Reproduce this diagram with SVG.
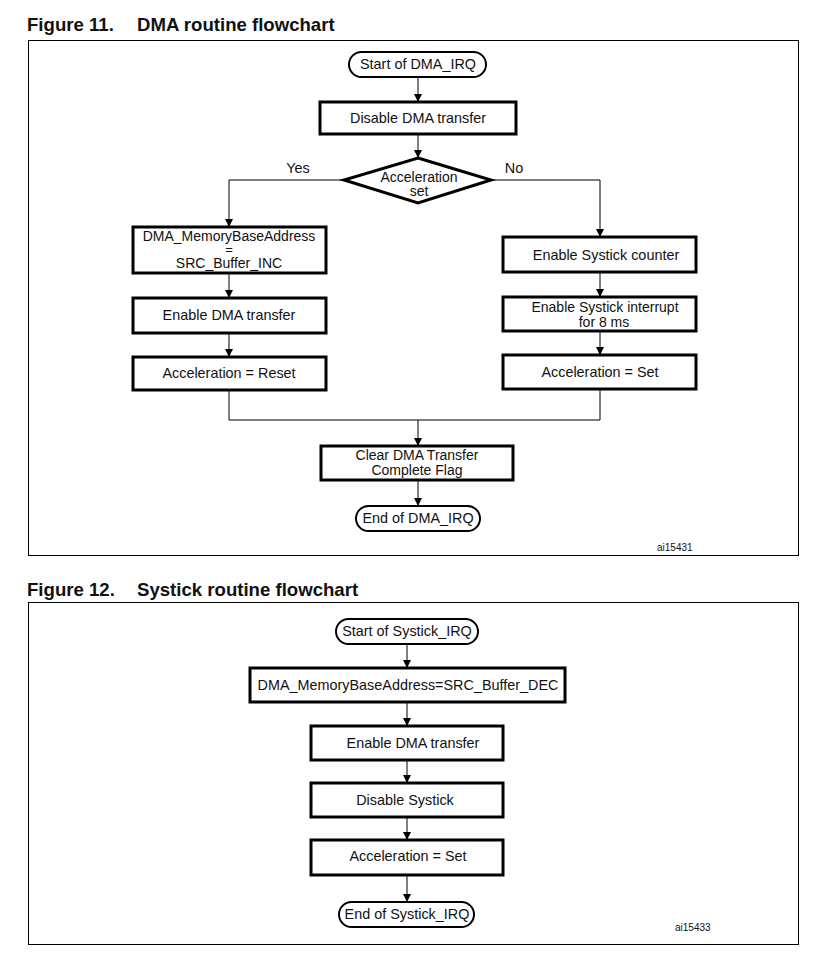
<svg xmlns="http://www.w3.org/2000/svg" width="828" height="962" viewBox="0 0 828 962">
<defs>
<marker id="ah" viewBox="0 0 10 10" refX="10" refY="5" markerWidth="8" markerHeight="10" markerUnits="userSpaceOnUse" orient="auto">
<path d="M0,0 L10,5 L0,10 z" fill="#000"/>
</marker>
<style>
.t{font-family:"Liberation Sans",Arial,sans-serif;font-size:14.4px;fill:#111;text-anchor:middle}
.t2{font-family:"Liberation Sans",Arial,sans-serif;font-size:14px;fill:#111;text-anchor:middle}
.t3{font-family:"Liberation Sans",Arial,sans-serif;font-size:13px;fill:#111;text-anchor:middle}
.h{font-family:"Liberation Sans",Arial,sans-serif;font-size:18.6px;font-weight:bold;fill:#111}
.s{font-family:"Liberation Sans",Arial,sans-serif;font-size:10px;fill:#111}
.box{fill:#fff;stroke:#000;stroke-width:3}
.term{fill:#fff;stroke:#000;stroke-width:2}
.frame{fill:#fff;stroke:#000;stroke-width:1}
.c{fill:none;stroke:#000;stroke-width:1}
</style>
</defs>
<rect width="828" height="962" fill="#fff"/>
<text class="h" x="27" y="31">Figure 11.</text>
<text class="h" x="137" y="31">DMA routine flowchart</text>
<rect class="frame" x="28.5" y="40.5" width="770" height="515"/>
<text class="h" x="27" y="596">Figure 12.</text>
<text class="h" x="137" y="596">Systick routine flowchart</text>
<rect class="frame" x="28.5" y="602.5" width="770" height="342"/>

<g id="connectors">
<line class="c" x1="418" y1="77" x2="418" y2="102" marker-end="url(#ah)"/>
<line class="c" x1="418" y1="134" x2="418" y2="158" marker-end="url(#ah)"/>
<polyline class="c" points="344,180 229,180 229,227" marker-end="url(#ah)"/>
<polyline class="c" points="491,180 600,180 600,237" marker-end="url(#ah)"/>
<line class="c" x1="229" y1="273" x2="229" y2="298" marker-end="url(#ah)"/>
<line class="c" x1="229" y1="333" x2="229" y2="357" marker-end="url(#ah)"/>
<line class="c" x1="600" y1="272" x2="600" y2="297" marker-end="url(#ah)"/>
<line class="c" x1="600" y1="331" x2="600" y2="355" marker-end="url(#ah)"/>
<polyline class="c" points="229,390 229,420 600,420 600,389"/>
<line class="c" x1="418" y1="420" x2="418" y2="446" marker-end="url(#ah)"/>
<line class="c" x1="418" y1="480" x2="418" y2="506" marker-end="url(#ah)"/>
<line class="c" x1="407" y1="644" x2="407" y2="668" marker-end="url(#ah)"/>
<line class="c" x1="407" y1="702" x2="407" y2="726" marker-end="url(#ah)"/>
<line class="c" x1="407" y1="760" x2="407" y2="783" marker-end="url(#ah)"/>
<line class="c" x1="407" y1="817" x2="407" y2="840" marker-end="url(#ah)"/>
<line class="c" x1="407" y1="875" x2="407" y2="902" marker-end="url(#ah)"/>
<text class="t" x="298" y="173">Yes</text>
<text class="t" x="514" y="173">No</text>
</g>

<g id="start_dma"><rect class="term" x="349" y="52" width="137" height="25" rx="12.5"/><text class="t" x="418" y="69">Start of DMA_IRQ</text></g>
<g id="disable_dma"><rect class="box" x="320" y="102" width="196" height="32"/><text class="t" x="418" y="123">Disable DMA transfer</text></g>
<g id="accel_set_decision"><polygon points="418,158 491,180 418,203 344,180" fill="#fff" stroke="#000" stroke-width="3"/><text class="t2" x="419" y="182">Acceleration</text><text class="t2" x="419" y="196">set</text></g>
<g id="mem_inc"><rect class="box" x="133" y="227" width="193" height="46"/><text class="t2" x="229" y="241">DMA_MemoryBaseAddress</text><text class="t3" x="229" y="254">=</text><text class="t2" x="229" y="268">SRC_Buffer_INC</text></g>
<g id="enable_dma_1"><rect class="box" x="133" y="298" width="193" height="35"/><text class="t" x="229" y="320">Enable DMA transfer</text></g>
<g id="accel_reset"><rect class="box" x="133" y="357" width="193" height="33"/><text class="t" x="229" y="378">Acceleration = Reset</text></g>
<g id="systick_counter"><rect class="box" x="503" y="237" width="193" height="35"/><text class="t" x="606" y="260">Enable Systick counter</text></g>
<g id="systick_int"><rect class="box" x="503" y="297" width="193" height="34"/><text class="t2" x="605" y="312">Enable Systick interrupt</text><text class="t2" x="604" y="327">for 8 ms</text></g>
<g id="accel_set_1"><rect class="box" x="503" y="355" width="193" height="34"/><text class="t" x="600" y="377">Acceleration = Set</text></g>
<g id="clear_flag"><rect class="box" x="321" y="446" width="192" height="34"/><text class="t2" x="417" y="460">Clear DMA Transfer</text><text class="t2" x="417" y="475">Complete Flag</text></g>
<g id="end_dma"><rect class="term" x="356" y="506" width="124" height="25" rx="12.5"/><text class="t" x="418" y="523">End of DMA_IRQ</text></g>
<text class="s" x="657" y="551">ai15431</text>

<g id="start_systick"><rect class="term" x="336" y="619" width="142" height="25" rx="12.5"/><text class="t" x="407" y="636">Start of Systick_IRQ</text></g>
<g id="mem_dec"><rect class="box" x="250" y="668" width="315" height="34"/><text class="t" x="408" y="690">DMA_MemoryBaseAddress=SRC_Buffer_DEC</text></g>
<g id="enable_dma_2"><rect class="box" x="311" y="726" width="192" height="34"/><text class="t" x="413" y="748">Enable DMA transfer</text></g>
<g id="disable_systick"><rect class="box" x="311" y="783" width="192" height="34"/><text class="t" x="405" y="805">Disable Systick</text></g>
<g id="accel_set_2"><rect class="box" x="311" y="840" width="192" height="35"/><text class="t" x="408" y="861">Acceleration = Set</text></g>
<g id="end_systick"><rect class="term" x="339" y="902" width="135" height="25" rx="12.5"/><text class="t" x="407" y="919">End of Systick_IRQ</text></g>
<text class="s" x="675" y="931">ai15433</text>
</svg>
